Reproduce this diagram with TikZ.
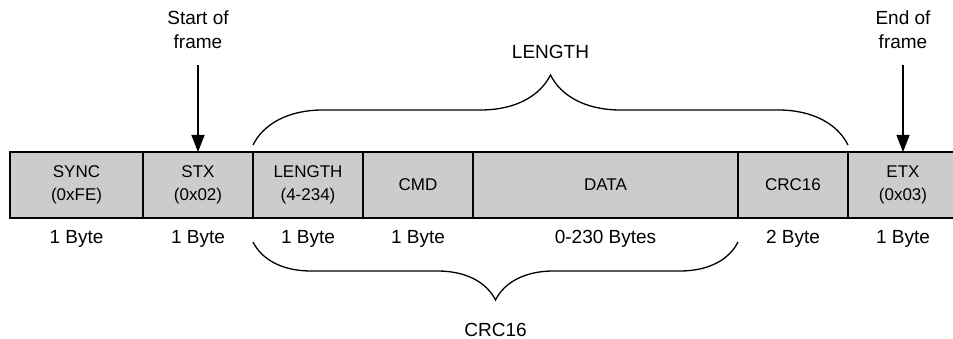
\documentclass[tikz,border=0pt]{standalone}
\usepackage{fontspec}
\setmainfont{Liberation Sans}
\usetikzlibrary{positioning,arrows.meta,decorations.pathreplacing}

\begin{document}
\begin{tikzpicture}[x=1pt,y=1pt,
field/.style={draw,fill=gray!40,line width=1.3pt,minimum height=66pt,minimum width=110pt,inner sep=0,outer sep=0,align=center,font=\fontsize{17}{23}\selectfont},
bytes/.style={inner sep=0,text height=14pt,text depth=4pt,font=\fontsize{19}{24}\selectfont},
note/.style={inner sep=0,align=center,font=\fontsize{19}{24}\selectfont},
marker/.style={line width=1.5pt,shorten <=16pt,-{Triangle[length=17pt,width=13pt]}},
span/.style={line width=1.3pt,decorate,decoration={brace,amplitude=#1}}]
\useasboundingbox (0,0) rectangle (953,339);
% frame fields
\node[field,minimum width=133pt](sync) at (76.5,154){SYNC\\(0xFE)};
\node[field,right=0pt of sync](stx){STX\\(0x02)};
\node[field,right=0pt of stx](lenf){LENGTH\\(4-234)};
\node[field,right=0pt of lenf](cmd){CMD};
\node[field,minimum width=265pt,right=0pt of cmd](data){DATA};
\node[field,right=0pt of data](crc){CRC16};
\node[field,right=0pt of crc](etx){ETX\\(0x03)};
% sizes
\node[bytes,below=11pt of sync](syncsz){1 Byte};
\node[bytes,below=11pt of stx](stxsz){1 Byte};
\node[bytes,below=11pt of lenf](lensz){1 Byte};
\node[bytes,below=11pt of cmd](cmdsz){1 Byte};
\node[bytes,below=11pt of data](datasz){0-230 Bytes};
\node[bytes,below=11pt of crc](crcsz){2 Byte};
\node[bytes,below=11pt of etx](etxsz){1 Byte};
% start / end markers
\node[note,above=103pt of stx](sof){Start of\\frame};
\node[note,above=103pt of etx](eof){End of\\frame};
\draw[marker](sof)--(stx);
\draw[marker](eof)--(etx);
% braces
\draw[span=70pt]([yshift=7pt]lenf.north west)--([yshift=7pt]crc.north east)
  node[bytes,midway,above=82pt](lenlbl){LENGTH};
\draw[span=58pt]([yshift=-24pt]crc.south west)--([yshift=-24pt]lenf.south west)
  node[bytes,text depth=0pt,midway,below=80pt](crclbl){CRC16};
\end{tikzpicture}
\end{document}
